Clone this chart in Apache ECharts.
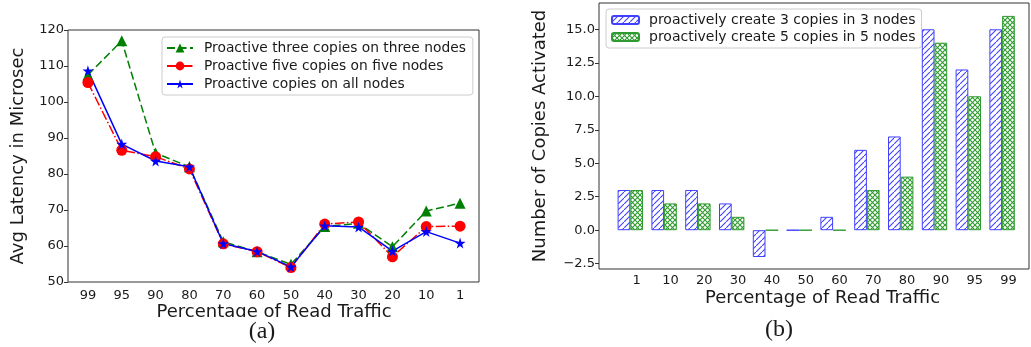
<!DOCTYPE html>
<html>
<head>
<meta charset="utf-8">
<script src="https://cdn.jsdelivr.net/npm/echarts@6/dist/echarts.min.js"></script>
<style>
  html, body { margin: 0; padding: 0; background: #fff; }
  #chart { width: 1031px; height: 347px; }
</style>
</head>
<body>
<div id="chart"></div>
<script>
// (a) latency vs read traffic
const readTrafficA = ['99', '95', '90', '80', '70', '60', '50', '40', '30', '20', '10', '1'];
const threeOnThree = [107.5, 117, 85.8, 82, 61.2, 58.4, 54.9, 65.4, 66.3, 59.8, 69.7, 71.9];
const fiveOnFive = [105.4, 86.6, 84.8, 81.4, 60.6, 58.4, 54, 66.1, 66.7, 57, 65.4, 65.5];
const allNodes = [108.7, 88.3, 83.6, 82, 60.7, 58.5, 54.2, 65.6, 65.3, 58.6, 64, 60.8];

// (b) copies activated
const readTrafficB = ['1', '10', '20', '30', '40', '50', '60', '70', '80', '90', '95', '99'];
const copies3 = [3, 3, 3, 2, -2, 0, 1, 6, 7, 15, 12, 15];
const copies5 = [3, 2, 2, 1, 0, 0, 0, 3, 4, 14, 10, 16];

const txt = '#1a1a1a';
const font = 'DejaVu Sans';
const blueHatch = '#4040ff';
const greenHatch = '#2f9a2f';
const star = 'path://M50,0 L61,35 L98,35 L68,57 L79,91 L50,70 L21,91 L32,57 L2,35 L39,35 Z';

// hatch fills, like matplotlib '///' and 'xxx'
function hatch(color, cross, s) {
    const c = document.createElement('canvas');
    c.width = s; c.height = s;
    const ctx = c.getContext('2d');
    ctx.fillStyle = '#fff';
    ctx.fillRect(0, 0, s, s);
    ctx.strokeStyle = color;
    ctx.lineWidth = 1.1;
    ctx.beginPath();
    ctx.moveTo(-1, s + 1); ctx.lineTo(s + 1, -1);
    if (cross) {
        ctx.moveTo(-1, -1); ctx.lineTo(s + 1, s + 1);
    }
    ctx.stroke();
    return { image: c, repeat: 'repeat' };
}

const chart = echarts.init(document.getElementById('chart'));

const hiddenValue = (grid, min, max) => ({
    type: 'value', gridIndex: grid, min: min, max: max, show: false, splitLine: { show: false }
});

const option = {
    animation: false,
    backgroundColor: '#fff',
    textStyle: { fontFamily: font },
    grid: [
        { left: 68, top: 30, width: 411, height: 252, show: true, borderColor: '#333', borderWidth: 1 },
        { left: 71, top: 30, width: 406, height: 252 },
        { left: 599, top: 3, width: 430, height: 266, show: true, borderColor: '#333', borderWidth: 1 },
        { left: 613.4, top: 29.3, width: 405.6, height: 234.4 },
        { left: 619.8, top: 3, width: 405.6, height: 266 }
    ],
    xAxis: [
        { type: 'category', gridIndex: 0, show: false },
        {
            type: 'category', gridIndex: 1, data: readTrafficA, boundaryGap: true,
            axisLine: { show: false },
            axisTick: { alignWithLabel: true, length: 4, lineStyle: { color: '#333' } },
            axisLabel: { fontSize: 13, margin: 7, color: txt, fontFamily: font },
            name: 'Percentage of Read Traffic', nameLocation: 'middle', nameGap: 21,
            nameMoveOverlap: false,
            nameTextStyle: { fontSize: 18, color: txt, fontFamily: font }
        },
        { type: 'category', gridIndex: 2, show: false },
        { type: 'category', gridIndex: 3, data: readTrafficB, show: false },
        {
            type: 'category', gridIndex: 4, data: readTrafficB, boundaryGap: true,
            axisLine: { show: false },
            axisTick: { alignWithLabel: true, length: 4, lineStyle: { color: '#333' } },
            axisLabel: { fontSize: 13, margin: 5, color: txt, fontFamily: font },
            name: 'Percentage of Read Traffic', nameLocation: 'middle', nameGap: 20,
            nameMoveOverlap: false,
            nameTextStyle: { fontSize: 18, color: txt, fontFamily: font }
        }
    ],
    yAxis: [
        {
            type: 'value', gridIndex: 0, min: 50, max: 120, interval: 10,
            axisLine: { show: false }, splitLine: { show: false },
            axisTick: { show: true, length: 4, lineStyle: { color: '#333' } },
            axisLabel: { fontSize: 13, margin: 4, color: txt, fontFamily: font },
            name: 'Avg Latency in Microsec', nameLocation: 'middle', nameGap: 41,
            nameTextStyle: { fontSize: 18, color: txt, fontFamily: font }
        },
        hiddenValue(1, 50, 120),
        {
            type: 'value', gridIndex: 2, min: 0, max: 10,
            axisLine: { show: false }, axisTick: { show: false }, axisLabel: { show: false },
            splitLine: { show: false },
            name: 'Number of Copies Activated', nameLocation: 'middle', nameGap: 50,
            nameTextStyle: { fontSize: 18, color: txt, fontFamily: font }
        },
        {
            type: 'value', gridIndex: 3, min: -2.5, max: 15, interval: 2.5, offset: 14.4,
            axisLine: { show: false }, splitLine: { show: false },
            axisTick: { show: true, length: 4, lineStyle: { color: '#333' } },
            axisLabel: {
                fontSize: 13, margin: 4, color: txt, fontFamily: font,
                formatter: v => v.toFixed(1).replace('-', '\u2212')
            }
        },
        hiddenValue(4, 0, 10)
    ],
    legend: [
        {
            data: ['Proactive three copies on three nodes', 'Proactive five copies on five nodes', 'Proactive copies on all nodes'],
            orient: 'vertical', left: 162, top: 37,
            itemWidth: 26, itemHeight: 11, itemGap: 4,
            padding: [4, 7, 4, 4],
            borderColor: '#ccc', borderWidth: 1, borderRadius: 3,
            backgroundColor: 'rgba(255,255,255,0.85)',
            textStyle: { fontSize: 13.8, color: txt, fontFamily: font, padding: [0, 0, 0, 6] }
        },
        {
            data: ['proactively create 3 copies in 3 nodes', 'proactively create 5 copies in 5 nodes'],
            orient: 'vertical', left: 606, top: 9,
            itemWidth: 27, itemHeight: 8, itemGap: 3,
            padding: [4, 6, 4, 5],
            borderColor: '#ccc', borderWidth: 1, borderRadius: 3,
            backgroundColor: 'rgba(255,255,255,0.85)',
            textStyle: { fontSize: 14, color: txt, fontFamily: font, padding: [0, 0, 0, 5] }
        }
    ],
    series: [
        {
            name: 'Proactive three copies on three nodes', type: 'line',
            xAxisIndex: 1, yAxisIndex: 1, data: threeOnThree,
            color: '#008000', symbol: 'triangle', symbolSize: 11,
            lineStyle: { width: 1.5, type: [8, 3.5] }
        },
        {
            name: 'Proactive five copies on five nodes', type: 'line',
            xAxisIndex: 1, yAxisIndex: 1, data: fiveOnFive,
            color: '#ff0000', symbol: 'circle', symbolSize: 11,
            lineStyle: { width: 1.5, type: [9.6, 2.4, 1.5, 2.4] }
        },
        {
            name: 'Proactive copies on all nodes', type: 'line',
            xAxisIndex: 1, yAxisIndex: 1, data: allNodes,
            color: '#0000ff', symbol: star, symbolSize: 11,
            lineStyle: { width: 1.5 }
        },
        {
            name: 'proactively create 3 copies in 3 nodes', type: 'bar',
            xAxisIndex: 3, yAxisIndex: 3, data: copies3,
            barWidth: 12.7, barGap: '0%', clip: false,
            itemStyle: { color: hatch(blueHatch, false, 6), borderColor: blueHatch, borderWidth: 1 }
        },
        {
            name: 'proactively create 5 copies in 5 nodes', type: 'bar',
            xAxisIndex: 3, yAxisIndex: 3, data: copies5,
            barWidth: 12.7, barGap: '0%', clip: false,
            itemStyle: { color: hatch(greenHatch, true, 5), borderColor: greenHatch, borderWidth: 1 }
        }
    ],
    graphic: [
        { type: 'rect', shape: { x: 120, y: 317, width: 310, height: 6 }, style: { fill: '#fff' }, z: 50 },
        {
            type: 'text', x: 262, y: 332, z: 60,
            style: { text: '(a)', fontSize: 24, fontFamily: 'Liberation Serif', fill: txt, align: 'center', verticalAlign: 'middle' }
        },
        {
            type: 'text', x: 779, y: 330, z: 60,
            style: { text: '(b)', fontSize: 24, fontFamily: 'Liberation Serif', fill: txt, align: 'center', verticalAlign: 'middle' }
        }
    ]
};

chart.setOption(option);
</script>
</body>
</html>
